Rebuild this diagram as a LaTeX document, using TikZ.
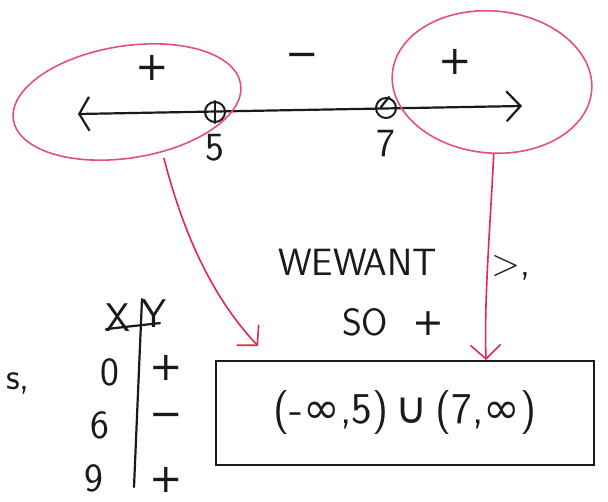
\documentclass[tikz,border=0pt]{standalone}
\usepackage{fontspec}
\newfontfamily\symfont{DejaVu Sans}
\usepackage{tikz}
\usetikzlibrary{arrows.meta,positioning,shapes.geometric}
\usepackage{xcolor}
\definecolor{ink}{HTML}{1A1A1A}
\definecolor{pinkpen}{HTML}{E0507A}
\definecolor{redpen}{HTML}{E02850}
\tikzset{
  pen/.style={draw=ink,line width=2.2pt,line cap=round,line join=round},
  hand/.style={font=\sffamily\fontsize{40}{42}\selectfont,text=ink,inner sep=1pt},
  smallhand/.style={font=\sffamily\fontsize{38}{40}\selectfont,text=ink,inner sep=1pt},
  bighand/.style={font=\sffamily\fontsize{44}{46}\selectfont,text=ink,inner sep=1pt},
  region/.style={ellipse,draw=pinkpen,line width=1.6pt},
  hole/.style={circle,draw=ink,line width=2pt,minimum size=20pt,inner sep=0pt},
  pointer/.style={draw=redpen,line width=1.6pt,-{Straight Barb[length=14pt,width=30pt,line width=1.6pt]}},
  answer/.style={draw=ink,line width=2.2pt,minimum width=378pt,minimum height=104pt,inner sep=0pt}
}
\begin{document}
\begin{tikzpicture}[x=1pt,y=-1pt]
\useasboundingbox (0,0) rectangle (608,502);
% number line
\coordinate (lineL) at (78,114);
\coordinate (lineR) at (522,106);
\draw[pen,{Straight Barb[length=10pt,width=34pt,line width=2.2pt]}-{Straight Barb[length=14pt,width=30pt,line width=2.2pt]}] (lineL) -- (lineR);
\node[hole] (five) at (215,112) {};
\node[hole] (seven) at (386,108) {};
\draw[pen] (five.north) -- (five.south);
\draw[pen] ([xshift=3pt]seven.north) -- ([xshift=-5pt,yshift=12pt]seven.south);
\node[hand,below=10pt of five] (lblfive) {5};
\node[hand,below=10pt of seven] (lblseven) {7};
% signs on the line
\node[hand] (signA) at (152,68) {\symfont +};
\node[hand] (signB) at (302,60) {\symfont −};
\node[hand] (signC) at (455,62) {\symfont +};
% circled regions
\node[region,minimum width=230pt,minimum height=112pt,rotate=9] (leftreg) at (127,102) {};
\node[region,minimum width=200pt,minimum height=142pt,rotate=-5] (rightreg) at (492,82) {};
% words
\node[smallhand] (want) at (404,265) {WEWANT\hspace{54pt}>,};
\node[smallhand] (so) at (393,322) {SO \ {\symfont +}};
\node[smallhand] (cut) at (18,383) {s,};
% sign table
\node[hand] (hx) at (118,318) {X};
\node[hand] (hy) at (154,314) {Y};
\node[hand] (r0x) at (110,372) {0};
\node[hand] (r0y) at (166,368) {\symfont +};
\node[hand] (r1x) at (100,425) {6};
\node[hand] (r1y) at (166,420) {\symfont −};
\node[hand] (r2x) at (94,478) {9};
\node[hand] (r2y) at (166,480) {\symfont +};
\draw[pen] ([xshift=-12pt,yshift=4pt]hx.south) -- ([xshift=6pt,yshift=6pt]hy.south);
\draw[pen] ([xshift=24pt,yshift=4pt]hx.north) -- ([xshift=40pt,yshift=6pt]r2x.south);
% answer box
\node[answer] (box) at (405,413) {};
\node[bighand] (interval) at (box.center) {(-{\symfont ∞},5)\,{\symfont ∪}\,(7,{\symfont ∞})};
% pointers
\coordinate (tipA) at (258,346);
\coordinate (tipB) at (486,360);
\draw[pointer] ([xshift=28pt]leftreg.south) .. controls (185,240) and (215,300) .. (tipA);
\draw[pointer] ([xshift=8pt]rightreg.south) .. controls (490,230) and (484,300) .. (tipB);
\end{tikzpicture}
\end{document}
